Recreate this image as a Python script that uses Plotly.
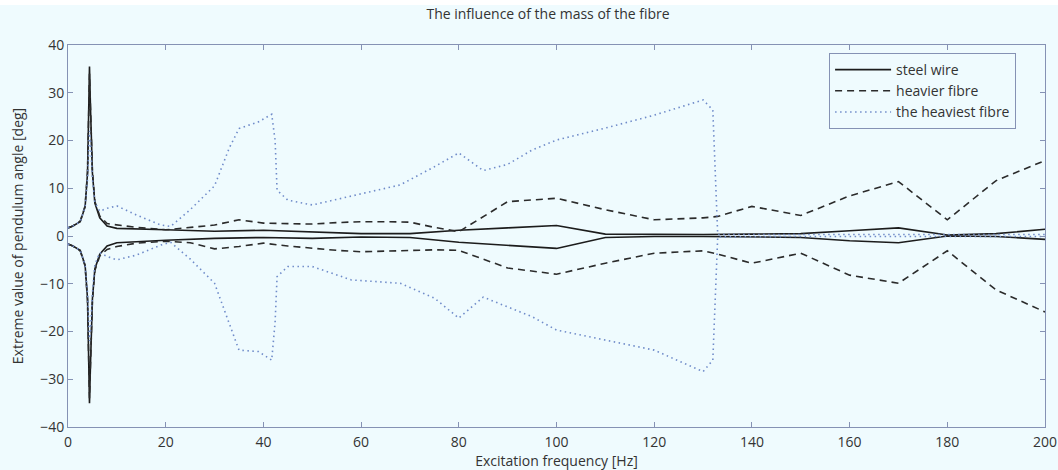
import plotly.graph_objects as go

# ---------------- data ----------------
f_steel = [0, 1, 2.5, 3.5, 4.0, 4.2, 4.4, 4.6, 5.0, 5.5, 6.5, 8, 10, 20, 30, 40, 50, 60, 70, 80,
           90, 100, 110, 120, 130, 140, 150, 160, 170, 180, 190, 200]
steel_max = [1.7, 2.1, 3.0, 6.1, 13.2, 27, 35.5, 27, 13.2, 6.9, 3.8, 2.1, 1.6, 1.3, 1.0, 1.2, 0.9, 0.5, 0.5, 1.2,
             1.7, 2.2, 0.4, 0.3, 0.3, 0.4, 0.5, 1.1, 1.7, 0.2, 0.5, 1.4]
steel_min = [-1.7, -2.1, -3.0, -6.1, -13.2, -27, -35, -27, -13.2, -6.9, -3.8, -2.1, -1.4, -0.9, -0.5, -0.3, -0.5, -0.2, -0.3, -1.3,
             -1.9, -2.6, -0.3, -0.1, -0.1, -0.2, -0.3, -1.0, -1.4, 0.0, -0.1, -0.7]

f_heavy = [0, 1, 2.5, 3.5, 4.0, 4.2, 4.4, 4.6, 5.0, 5.5, 6.5, 8, 10, 14, 20, 25, 30, 35, 40, 45,
           50, 55, 60, 65, 70, 75, 80, 90, 100, 110, 120, 130, 133, 140, 150, 160, 170, 180, 190, 200]
heavy_max = [1.7, 2.1, 3.1, 6.3, 13.5, 27, 34, 27, 13.5, 7.2, 4.2, 2.6, 2.3, 1.8, 1.3, 1.8, 2.3, 3.4, 2.7, 2.6,
             2.5, 2.8, 3.0, 3.0, 2.9, 1.8, 0.9, 7.2, 7.9, 5.5, 3.4, 3.8, 4.1, 6.2, 4.3, 8.4, 11.4, 3.4, 11.6, 15.8]
heavy_min = [-1.7, -2.1, -3.1, -6.3, -13.5, -27, -34, -27, -13.5, -7.2, -4.2, -2.8, -2.2, -1.5, -1.1, -1.4, -2.7, -2.2, -1.5, -2.1,
             -2.6, -3.0, -3.3, -3.2, -3.0, -2.9, -3.0, -6.7, -8.0, -5.7, -3.6, -3.1, -3.8, -5.7, -3.6, -8.2, -9.9, -3.1, -11.3, -15.9]

f_heaviest = [0, 1, 2.5, 3.5, 4.0, 4.2, 4.4, 4.6, 5.0, 5.5, 6.5, 8, 10, 14, 19, 21, 25, 30, 33, 35,
              39, 41.7, 42.4, 42.8, 45, 50, 58, 68, 75, 80, 85, 90, 95, 100, 110, 120, 130, 132, 133, 140,
              150, 160, 170, 180, 190, 200]
heaviest_max = [1.7, 2.1, 3.0, 6.0, 12, 20, 22, 20, 12, 7, 5.2, 5.8, 6.3, 4.4, 2.3, 2.0, 5.5, 10.5, 18.4, 22.5,
                23.9, 25.5, 20, 9.6, 7.5, 6.5, 8.4, 10.7, 14.5, 17.4, 13.7, 15.0, 18.0, 20.1, 22.6, 25.3, 28.5, 26.4, 0.3, 0.3,
                0.3, 0.3, 0.3, 0.2, 0.2, 0.3]
heaviest_min = [-1.7, -2.1, -3.0, -6.0, -12, -20, -22, -20, -12, -6, -3.5, -4.3, -5.0, -4.0, -1.9, -1.3, -4.8, -9.9, -18.3, -23.9,
                -24.2, -26, -18, -8.5, -6.4, -6.4, -9.2, -9.9, -13, -17.2, -12.8, -14.8, -16.9, -19.7, -21.8, -23.9, -28.4, -26, -0.2, -0.1,
                -0.1, -0.1, -0.1, -0.1, -0.1, -0.1]

series_names = ["steel wire", "heavier fibre", "the heaviest fibre"]
x_ticks = [0, 20, 40, 60, 80, 100, 120, 140, 160, 180, 200]
y_ticks = [-40, -30, -20, -10, 0, 10, 20, 30, 40]

# ---------------- style ----------------
BG = "#effbfe"
AXIS = "#8592b4"
TEXT = "#333333"
FONT = "Open Sans"
FS = 14

styles = [
    dict(color="#1c1c1c", width=1.6, dash="solid"),
    dict(color="#2b2b2b", width=1.6, dash="7px,5px"),
    dict(color="#6f8bc9", width=1.6, dash="1.5px,3.5px"),
]

fig = go.Figure()
data = [(f_steel, steel_max, steel_min), (f_heavy, heavy_max, heavy_min), (f_heaviest, heaviest_max, heaviest_min)]
for name, (fx, up, lo), st in zip(series_names, data, styles):
    fig.add_trace(go.Scatter(x=fx, y=up, mode="lines", name=name, legendgroup=name,
                             line=st, showlegend=True))
    fig.add_trace(go.Scatter(x=fx, y=lo, mode="lines", name=name, legendgroup=name,
                             line=st, showlegend=False))

axis_common = dict(showgrid=False, zeroline=False, showline=True, linecolor=AXIS, linewidth=1,
                   mirror="allticks", ticks="inside", ticklen=5, tickcolor=AXIS, tickwidth=1,
                   automargin=False,
                   tickfont=dict(family=FONT, size=FS, color=TEXT))

fig.update_layout(
    width=1058, height=470,
    margin=dict(l=68, r=13, t=45, b=43),
    paper_bgcolor=BG, plot_bgcolor=BG,
    font=dict(family=FONT, size=FS, color=TEXT),
    title=dict(text="The influence of the mass of the fibre", x=0.518, xanchor="center",
               y=1 - 14 / 470, yanchor="middle", font=dict(family=FONT, size=FS, color=TEXT)),
    xaxis=dict(range=[0, 200], tickvals=x_ticks, ticklabelstandoff=2, **axis_common,
               title=dict(text="Excitation frequency [Hz]", standoff=3,
                          font=dict(family=FONT, size=FS, color=TEXT))),
    yaxis=dict(range=[-40, 40], tickvals=y_ticks, **axis_common,
               title=dict(text="Extreme value of pendulum angle [deg]", standoff=13,
                          font=dict(family=FONT, size=FS, color=TEXT))),
    legend=dict(x=0.779, y=0.979, xanchor="left", yanchor="top",
                bgcolor=BG, bordercolor=AXIS, borderwidth=1,
                font=dict(family=FONT, size=FS, color=TEXT),
                itemwidth=56, tracegroupgap=0),
    showlegend=True,
)

fig.add_shape(type="rect", xref="paper", yref="paper", x0=-0.2, x1=1.2,
              y0=(427 - 5) / 382, y1=1.2, fillcolor="white", line=dict(width=0), layer="below")

fig.write_html("out.html")
